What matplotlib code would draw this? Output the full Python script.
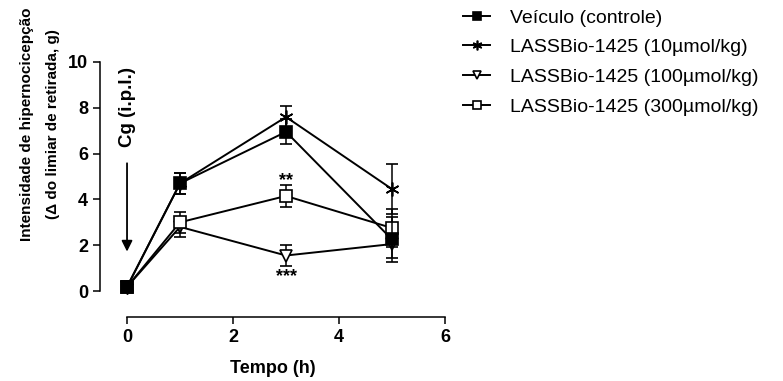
import numpy as np
import matplotlib.pyplot as plt

plt.rcParams['font.family'] = ['Liberation Sans', 'DejaVu Sans']

# data
tempo = [0, 1, 3, 5]
veiculo = [0.18, 4.7, 6.95, 2.25]
veiculo_err = [0.08, 0.45, 0.55, 1.0]
lb10 = [0.18, 4.7, 7.6, 4.45]
lb10_err = [0.08, 0.45, 0.5, 1.1]
lb100 = [0.18, 2.8, 1.55, 2.05]
lb100_err = [0.08, 0.45, 0.45, 0.6]
lb300 = [0.18, 3.0, 4.15, 2.75]
lb300_err = [0.08, 0.45, 0.5, 0.85]

labels = ['Veículo (controle)', 'LASSBio-1425 (10µmol/kg)',
          'LASSBio-1425 (100µmol/kg)', 'LASSBio-1425 (300µmol/kg)']

fig = plt.figure(figsize=(7.83, 3.81), dpi=100)
ax = fig.add_axes([100/783, 90/381, 345/783, 229/381])

series = [
    (veiculo, veiculo_err, dict(marker='s', mfc='black', ms=8.5, zorder=5)),
    (lb10, lb10_err, dict(marker=(6, 2, 0), mfc='black', ms=10, zorder=3)),
    (lb100, lb100_err, dict(marker='v', mfc='white', ms=9, zorder=3)),
    (lb300, lb300_err, dict(marker='s', mfc='white', ms=8, zorder=4)),
]
for (y, e, st), lab in zip(series, labels):
    ax.errorbar(tempo, y, yerr=e, color='black', mec='black', lw=1.4,
                mew=1.2, elinewidth=1.1, capsize=4.5, capthick=1.1,
                label=lab, clip_on=False, **st)

# significance marks
ax.text(3, 4.8, '**', ha='center', va='center', fontsize=13, fontweight='bold')
ax.text(3, 0.62, '***', ha='center', va='center', fontsize=13, fontweight='bold')

# injection arrow
ax.annotate('', xy=(0, 1.6), xytext=(0, 5.7),
            arrowprops=dict(arrowstyle='-|>', color='black', lw=1.3,
                            mutation_scale=16))
ax.text(0, 8.05, 'Cg (i.p.l.)', rotation=90, ha='center', va='center',
        fontsize=13.5, fontweight='bold')

ax.set_xlim(-0.51, 6)
ax.set_ylim(0, 10)
ax.set_xticks([0, 2, 4, 6])
ax.set_yticks([0, 2, 4, 6, 8, 10])
ax.spines['top'].set_visible(False)
ax.spines['right'].set_visible(False)
ax.spines['bottom'].set_position(('outward', 19))
ax.spines['bottom'].set_bounds(0, 6)
ax.spines['left'].set_linewidth(1.1)
ax.spines['bottom'].set_linewidth(1.1)
ax.tick_params(labelsize=13, width=1.1, length=5)
for t in ax.get_xticklabels() + ax.get_yticklabels():
    t.set_fontweight('bold')

ax.set_xlabel('Tempo (h)', fontsize=13, fontweight='bold', labelpad=10)
ax.set_ylabel('Intensidade de hipernocicepção\n(Δ do limiar de retirada, g)',
              fontsize=11, fontweight='bold', linespacing=2.1)
ax.yaxis.set_label_coords(-0.116, 0.73)

handles, labs = ax.get_legend_handles_labels()
handles = [h[0] for h in handles]
fig.legend(handles, labs, loc='upper left', bbox_to_anchor=(463/783, 1 - 9/381),
           frameon=False, fontsize=14, handlelength=1.4, handletextpad=1.0,
           labelspacing=0.62, markerscale=0.7, borderpad=0, borderaxespad=0)

fig.savefig('out.png', dpi=100)
